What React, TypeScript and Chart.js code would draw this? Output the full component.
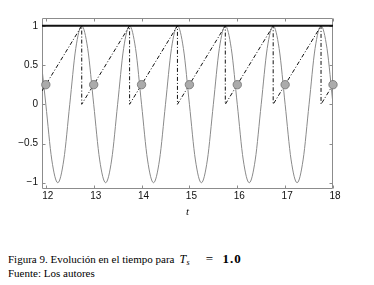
import React, { useEffect, useRef } from "react";
import { Chart, registerables } from "chart.js";

Chart.register(...registerables);

// Sinusoid (grey), read at eighth-period points
const sineT = [
  11.875,
  12, 12.125, 12.25, 12.375, 12.5, 12.625, 12.75, 12.875,
  13, 13.125, 13.25, 13.375, 13.5, 13.625, 13.75, 13.875,
  14, 14.125, 14.25, 14.375, 14.5, 14.625, 14.75, 14.875,
  15, 15.125, 15.25, 15.375, 15.5, 15.625, 15.75, 15.875,
  16, 16.125, 16.25, 16.375, 16.5, 16.625, 16.75, 16.875,
  17, 17.125, 17.25, 17.375, 17.5, 17.625, 17.75, 17.875,
  18,
];
const sineY = [
  0.71,
  0, -0.71, -1, -0.71, 0, 0.71, 1, 0.71,
  0, -0.71, -1, -0.71, 0, 0.71, 1, 0.71,
  0, -0.71, -1, -0.71, 0, 0.71, 1, 0.71,
  0, -0.71, -1, -0.71, 0, 0.71, 1, 0.71,
  0, -0.71, -1, -0.71, 0, 0.71, 1, 0.71,
  0, -0.71, -1, -0.71, 0, 0.71, 1, 0.71,
  0,
];

// Sawtooth (dash-dot, black)
const sawT = [11.92, 12.75, 12.75, 13.75, 13.75, 14.75, 14.75, 15.75, 15.75, 16.75, 16.75, 17.75, 17.75, 18];
const sawY = [0.17, 1, 0, 1, 0, 1, 0, 1, 0, 1, 0, 1, 0, 0.25];

// Samples (grey circles)
const sampleT = [12, 13, 14, 15, 16, 17, 18];
const sampleY = [0.25, 0.25, 0.25, 0.25, 0.25, 0.25, 0.25];

// Reference level (thick black)
const refT = [11.92, 18];
const refY = [1, 1];

const xTicks = [12, 13, 14, 15, 16, 17, 18];
const yTicks = [-1, -0.5, 0, 0.5, 1];

const X_MIN = 11.92;
const X_MAX = 18;
const Y_MIN = -1.08;
const Y_MAX = 1.1;

const zip = (xs: number[], ys: number[]) => xs.map((x, i) => ({ x, y: ys[i] }));

const boxPlugin = {
  id: "matlabBox",
  beforeDatasetsDraw(chart: any) {
    const { ctx, chartArea, scales } = chart;
    const { left, right, top, bottom } = chartArea;
    const xs = scales.x;
    const ys = scales.y;
    ctx.save();
    ctx.strokeStyle = "#8c8c8c";
    ctx.lineWidth = 1;
    const L = Math.round(left) + 0.5;
    const R = Math.round(right) - 0.5;
    const T = Math.round(top) + 0.5;
    const B = Math.round(bottom) - 0.5;
    ctx.beginPath();
    ctx.rect(L, T, R - L, B - T);
    ctx.stroke();
    const tl = 3;
    ctx.beginPath();
    xTicks.forEach((v) => {
      const px = Math.round(xs.getPixelForValue(v)) + 0.5;
      ctx.moveTo(px, B);
      ctx.lineTo(px, B - tl);
      ctx.moveTo(px, T);
      ctx.lineTo(px, T + tl);
    });
    yTicks.forEach((v) => {
      const py = Math.round(ys.getPixelForValue(v)) + 0.5;
      ctx.moveTo(L, py);
      ctx.lineTo(L + tl, py);
      ctx.moveTo(R, py);
      ctx.lineTo(R - tl, py);
    });
    ctx.stroke();
    ctx.restore();
  },
};

function ChartView() {
  const ref = useRef<HTMLCanvasElement | null>(null);
  useEffect(() => {
    if (!ref.current) return;
    const chart = new Chart(ref.current, {
      type: "line",
      data: {
        datasets: [
          {
            data: zip(sampleT, sampleY),
            showLine: false,
            pointRadius: 4.2,
            pointBackgroundColor: "#ababab",
            pointBorderColor: "#6e6e6e",
            pointBorderWidth: 0.8,
            clip: false,
            order: 0,
          },
          {
            data: zip(refT, refY),
            borderColor: "#111111",
            borderWidth: 2,
            pointRadius: 0,
            order: 1,
          },
          {
            data: zip(sawT, sawY),
            borderColor: "#111111",
            borderWidth: 1,
            borderDash: [4, 2, 1, 2],
            pointRadius: 0,
            order: 2,
          },
          {
            data: zip(sineT, sineY),
            borderColor: "#8a8a8a",
            borderWidth: 1,
            pointRadius: 0,
            cubicInterpolationMode: "monotone",
            order: 3,
          },
        ] as any,
      },
      options: {
        animation: false,
        responsive: false,
        events: [],
        layout: { padding: { top: 1, right: 41, left: 0, bottom: 0 } },
        plugins: { legend: { display: false }, tooltip: { enabled: false } },
        scales: {
          x: {
            type: "linear",
            min: X_MIN,
            max: X_MAX,
            grid: { display: false, drawTicks: false },
            border: { display: false },
            afterBuildTicks: (s: any) => {
              s.ticks = xTicks.map((v) => ({ value: v }));
            },
            afterFit: (s: any) => {
              s.height = 31;
            },
            ticks: {
              color: "#111111",
              padding: 1,
              labelOffset: 2,
              maxRotation: 0,
              autoSkip: false,
              font: { family: "'Liberation Sans', Arial, sans-serif", size: 10 },
              callback: (v: any) => String(v),
            },
            title: {
              display: true,
              text: "t",
              color: "#111111",
              padding: { top: 0, bottom: 1 },
              font: { family: "'Liberation Serif', 'Times New Roman', serif", size: 11, style: "italic" },
            },
          },
          y: {
            type: "linear",
            min: Y_MIN,
            max: Y_MAX,
            grid: { display: false, drawTicks: false },
            border: { display: false },
            afterBuildTicks: (s: any) => {
              s.ticks = yTicks.map((v) => ({ value: v }));
            },
            afterFit: (s: any) => {
              s.width = 34;
            },
            ticks: {
              color: "#111111",
              padding: 4,
              autoSkip: false,
              font: { family: "'Liberation Sans', Arial, sans-serif", size: 10 },
              callback: (v: any) => (v < 0 ? "\u2212" + String(Math.abs(v)) : String(v)),
            },
          },
        },
      },
      plugins: [boxPlugin],
    });
    return () => chart.destroy();
  }, []);
  return <canvas ref={ref} width={366} height={212} style={{ display: "block", width: 366, height: 212 }} />;
}

export default function App() {
  const serif = "Liberation Serif, Times New Roman, Times, serif";
  return (
    <div style={{ width: 366 }}>
      <div>
        <ChartView />
      </div>
      <div style={{ marginTop: 33, fontFamily: serif, fontSize: 11, lineHeight: "11px", color: "#000", whiteSpace: "nowrap" }}>
        <div>
          Figura 9. Evolución en el tiempo para
          <span style={{ display: "inline-block", width: 5 }} />
          <span style={{ display: "inline-block", width: 7, fontStyle: "italic", fontSize: 12 }}>T</span>
          <span style={{ display: "inline-block", width: 6, fontStyle: "italic", fontSize: 8, verticalAlign: -2 }}>s</span>
          <span style={{ display: "inline-block", width: 30, paddingLeft: 4, boxSizing: "border-box", textAlign: "center", fontSize: 13 }}>=</span>
          <span style={{ fontSize: 13, fontWeight: "bold", letterSpacing: "1px" }}>1.0</span>
        </div>
        <div>Fuente: Los autores</div>
      </div>
    </div>
  );
}
